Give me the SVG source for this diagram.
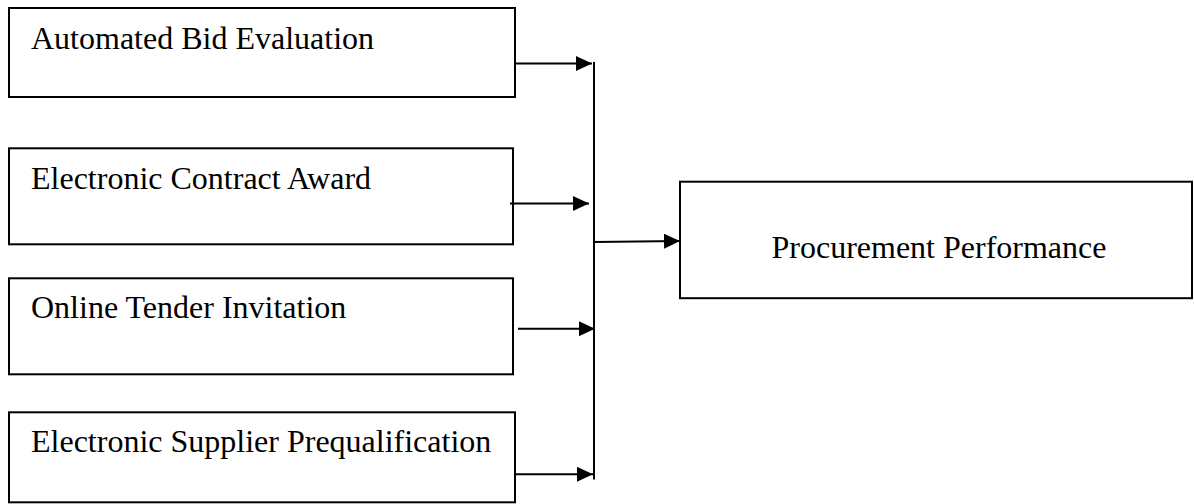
<svg xmlns="http://www.w3.org/2000/svg" width="1194" height="504" viewBox="0 0 1194 504">
<style>
.box{fill:#fff;stroke:#000;stroke-width:2}
.lbl{font-family:"Liberation Serif","Times New Roman",serif;font-size:32px;fill:#000}
.ln{stroke:#000;stroke-width:2;fill:none}
</style>
<defs>
<marker id="ah" markerWidth="16" markerHeight="15" refX="16" refY="7.5" orient="auto" markerUnits="userSpaceOnUse" viewBox="0 0 16 15">
<path d="M0,0 L16,7.5 L0,15 Z" fill="#000"/>
</marker>
</defs>
<rect width="1194" height="504" fill="#fff"/>
<g id="n1"><rect class="box" x="9" y="8" width="506" height="89"/><text class="lbl" x="31" y="48.7">Automated Bid Evaluation</text></g>
<g id="n2"><rect class="box" x="9" y="148.3" width="504" height="96"/><text class="lbl" x="31" y="189.3">Electronic Contract Award</text></g>
<g id="n3"><rect class="box" x="9" y="278.3" width="504" height="96"/><text class="lbl" x="31" y="318.3">Online Tender Invitation</text></g>
<g id="n4"><rect class="box" x="9" y="412.3" width="506" height="90"/><text class="lbl" x="31" y="451.7">Electronic Supplier Prequalification</text></g>
<g id="n5"><rect class="box" x="680" y="181.7" width="512" height="116.5"/><text class="lbl" x="771.5" y="258">Procurement Performance</text></g>
<g id="connectors">
<line class="ln" x1="594" y1="62" x2="594" y2="479.5"/>
<line class="ln" x1="515" y1="63.5" x2="592" y2="63.5" marker-end="url(#ah)"/>
<line class="ln" x1="510" y1="203.5" x2="589" y2="203.5" marker-end="url(#ah)"/>
<line class="ln" x1="518" y1="328.7" x2="595" y2="328.7" marker-end="url(#ah)"/>
<line class="ln" x1="515" y1="474.3" x2="593" y2="474.3" marker-end="url(#ah)"/>
<line class="ln" x1="594" y1="242" x2="680" y2="241" marker-end="url(#ah)"/>
</g>
</svg>
